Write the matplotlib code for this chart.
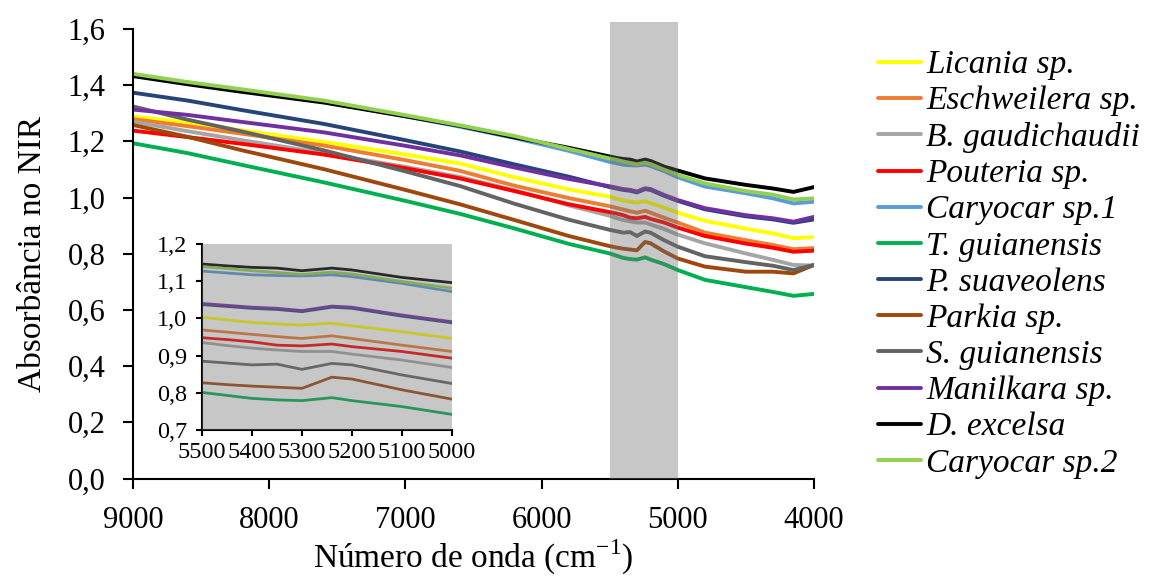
"""Espectros NIR medios por especie, com detalhe da regiao 5500-5000 cm-1."""

import matplotlib.pyplot as plt
from matplotlib import ticker

plt.rcParams['font.family'] = ['Liberation Serif', 'DejaVu Serif']
plt.rcParams['mathtext.fontset'] = 'custom'
plt.rcParams['mathtext.rm'] = 'Liberation Serif'

wavenumber = [9000, 8600, 8200, 7600, 7000, 6600, 6200, 5800, 5500, 5450,
              5400, 5350, 5300, 5240, 5200, 5100, 5000, 4800, 4500, 4300,
              4150, 4000]

licania = [1.288, 1.267, 1.239, 1.198, 1.153, 1.121, 1.072, 1.029, 1.003,
           0.996, 0.989, 0.985, 0.982, 0.987, 0.980, 0.964, 0.946, 0.917,
           0.889, 0.872, 0.855, 0.859]
eschweilera = [1.279, 1.254, 1.227, 1.185, 1.133, 1.095, 1.042, 0.998, 0.969,
               0.963, 0.957, 0.951, 0.946, 0.953, 0.946, 0.928, 0.911, 0.875,
               0.848, 0.831, 0.816, 0.820]
b_gaudichaudii = [1.270, 1.236, 1.204, 1.158, 1.109, 1.073, 1.026, 0.972,
                  0.935, 0.927, 0.920, 0.915, 0.911, 0.911, 0.904, 0.888,
                  0.868, 0.837, 0.801, 0.778, 0.760, 0.758]
pouteria = [1.238, 1.215, 1.191, 1.153, 1.104, 1.068, 1.023, 0.976, 0.948,
            0.943, 0.937, 0.928, 0.926, 0.931, 0.924, 0.911, 0.893, 0.863,
            0.836, 0.821, 0.807, 0.811]
caryocar_1 = [1.436, 1.407, 1.381, 1.341, 1.289, 1.252, 1.212, 1.166, 1.127,
              1.122, 1.117, 1.115, 1.114, 1.117, 1.112, 1.094, 1.072, 1.039,
              1.015, 0.997, 0.979, 0.985]
t_guianensis = [1.193, 1.158, 1.116, 1.054, 0.988, 0.942, 0.890, 0.835,
                0.801, 0.793, 0.785, 0.781, 0.779, 0.787, 0.779, 0.763,
                0.742, 0.707, 0.681, 0.664, 0.650, 0.657]
p_suaveolens = [1.373, 1.345, 1.311, 1.262, 1.204, 1.164, 1.118, 1.074,
                1.037, 1.032, 1.027, 1.024, 1.018, 1.030, 1.027, 1.006,
                0.988, 0.958, 0.933, 0.922, 0.910, 0.922]
parkia = [1.258, 1.216, 1.168, 1.101, 1.027, 0.976, 0.920, 0.863, 0.827,
          0.822, 0.818, 0.815, 0.812, 0.842, 0.837, 0.808, 0.783, 0.754,
          0.736, 0.736, 0.730, 0.760]
s_guianensis = [1.324, 1.277, 1.235, 1.168, 1.093, 1.041, 0.978, 0.921,
                0.885, 0.880, 0.875, 0.877, 0.863, 0.879, 0.875, 0.848,
                0.825, 0.791, 0.770, 0.757, 0.742, 0.760]
manilkara = [1.313, 1.294, 1.269, 1.232, 1.184, 1.150, 1.107, 1.066, 1.040,
             1.035, 1.030, 1.027, 1.021, 1.033, 1.030, 1.009, 0.991, 0.962,
             0.937, 0.926, 0.914, 0.931]
d_excelsa = [1.432, 1.403, 1.376, 1.338, 1.289, 1.255, 1.214, 1.177, 1.146,
             1.141, 1.137, 1.135, 1.128, 1.135, 1.130, 1.110, 1.096, 1.068,
             1.045, 1.032, 1.020, 1.037]
caryocar_2 = [1.440, 1.411, 1.385, 1.345, 1.293, 1.257, 1.219, 1.173, 1.139,
              1.134, 1.128, 1.123, 1.118, 1.124, 1.119, 1.099, 1.081, 1.050,
              1.023, 1.010, 0.993, 0.997]

labels = ['Licania sp.', 'Eschweilera sp.', 'B. gaudichaudii', 'Pouteria sp.',
          'Caryocar sp.1', 'T. guianensis', 'P. suaveolens', 'Parkia sp.',
          'S. guianensis', 'Manilkara sp.', 'D. excelsa', 'Caryocar sp.2']
series = [licania, eschweilera, b_gaudichaudii, pouteria, caryocar_1,
          t_guianensis, p_suaveolens, parkia, s_guianensis, manilkara,
          d_excelsa, caryocar_2]
colors = ['#FFFF00', '#ED7D31', '#A5A5A5', '#FF0000', '#5B9BD5', '#00B050',
          '#264478', '#9E480E', '#636363', '#7030A0', '#000000', '#92D050']

# faixa destacada e regiao do detalhe
band = (5500, 5000)
shade_color = '#6E6E6E'
shade_alpha = 0.38


def comma(fmt):
    return ticker.FuncFormatter(lambda v, _: fmt.format(v).replace('.', ','))


def style_axis(ax, size, tick_len, xpad, ypad):
    for side in ('top', 'right'):
        ax.spines[side].set_visible(False)
    for side in ('left', 'bottom'):
        ax.spines[side].set_linewidth(1.5)
    ax.tick_params(direction='out', length=tick_len, width=1.5,
                   labelsize=size, colors='black')
    ax.tick_params(axis='x', pad=xpad)
    ax.tick_params(axis='y', pad=ypad)


fig = plt.figure(figsize=(11.54, 5.78), dpi=100)
ax = fig.add_axes([0.1153, 0.1721, 0.590, 0.7779])

for values, color, label in zip(series, colors, labels):
    ax.plot(wavenumber, values, color=color, lw=2.8, label=label,
            solid_capstyle='round')

ax.axvspan(*band, ymax=1.015, color=shade_color, alpha=shade_alpha, lw=0,
           zorder=5, clip_on=False)

ax.set_xlim(9000, 4000)
ax.set_ylim(0, 1.6)
ax.set_xticks(range(9000, 3999, -1000))
ax.yaxis.set_major_locator(ticker.MultipleLocator(0.2))
ax.yaxis.set_major_formatter(comma('{:.1f}'))
style_axis(ax, 22, 7, 13, 13)
ax.set_xlabel('Número de onda (cm$^{-1}$)', fontsize=24, labelpad=2)
ax.set_ylabel('Absorbância no NIR', fontsize=24, labelpad=14)

ax.legend(loc='upper left', bbox_to_anchor=(878 / 1154, 0.914),
          bbox_transform=fig.transFigure, frameon=False, borderpad=0,
          borderaxespad=0, handlelength=1.3, handletextpad=0.15,
          labelspacing=0.17, prop={'style': 'italic', 'size': 24})

# detalhe
inset = fig.add_axes([0.175, 0.256, 0.2166, 0.322])
for values, color in zip(series, colors):
    inset.plot(wavenumber, values, color=color, lw=2.0)
inset.axvspan(5600, 4900, color=shade_color, alpha=shade_alpha, lw=0,
              zorder=5)
inset.set_xlim(*band)
inset.set_ylim(0.7, 1.2)
inset.set_xticks(range(5500, 4999, -100))
inset.yaxis.set_major_locator(ticker.MultipleLocator(0.1))
inset.yaxis.set_major_formatter(comma('{:.1f}'))
style_axis(inset, 17.5, 4.5, 4, 6)

fig.savefig('out.png', dpi=100)
